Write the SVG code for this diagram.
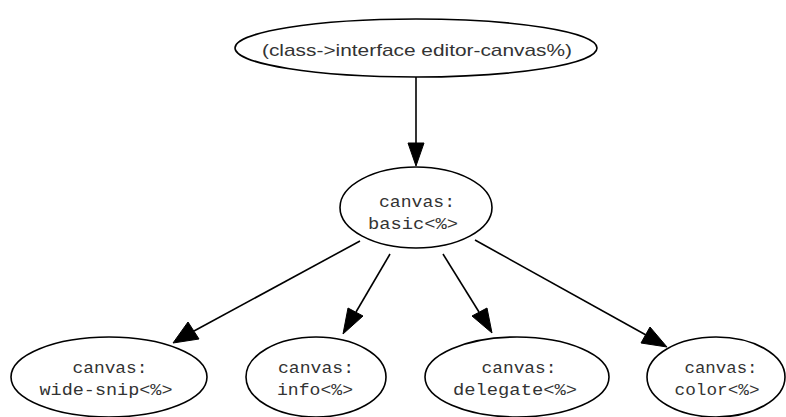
<svg xmlns="http://www.w3.org/2000/svg" width="786" height="417" viewBox="0 0 786 417">
<style>
.node ellipse{fill:none;stroke:#000;stroke-width:1.6}
.edge{stroke:#000;stroke-width:1.6;fill:none}
.t{font-family:"Liberation Mono",monospace;font-size:16px;fill:#333;text-anchor:middle}
.ts{font-family:"Liberation Sans",sans-serif;font-size:17px;fill:#333;text-anchor:middle}
</style>
<defs>
<marker id="ah" viewBox="0 0 10 10" refX="10" refY="5" markerWidth="10" markerHeight="10" markerUnits="userSpaceOnUse" orient="auto"><path d="M0,0 L10,5 L0,10 z" fill="#000"/></marker>
</defs>
<rect width="786" height="417" fill="#fff"/>
<g id="connectors">
<line class="edge" x1="416" y1="77" x2="416" y2="143"/><path d="M408,143 L424,143 L416,166 z" fill="#000" stroke="#000"/>
<line class="edge" x1="360" y1="241" x2="194" y2="331"/><path d="M188,322 L199,339 L173,343 z" fill="#000" stroke="#000"/>
<line class="edge" x1="390" y1="254" x2="356" y2="312"/><path d="M348,308 L363,316 L343,334 z" fill="#000" stroke="#000"/>
<line class="edge" x1="443" y1="254" x2="479" y2="312"/><path d="M472,316 L487,308 L492,333 z" fill="#000" stroke="#000"/>
<line class="edge" x1="475" y1="240" x2="646" y2="335"/><path d="M641,343 L650,327 L667,347 z" fill="#000" stroke="#000"/>
</g>
<g id="n0" class="node"><ellipse cx="416" cy="48" rx="181" ry="29"/><text class="ts" x="417" y="56" textLength="310" lengthAdjust="spacingAndGlyphs">(class-&gt;interface editor-canvas%)</text></g>
<g id="n1" class="node"><ellipse cx="416" cy="207.5" rx="76" ry="40.5"/><text class="t" x="417" y="207" textLength="76" lengthAdjust="spacingAndGlyphs">canvas:</text><text class="t" x="413" y="229" textLength="90" lengthAdjust="spacingAndGlyphs">basic&lt;%&gt;</text></g>
<g id="n2" class="node"><ellipse cx="109" cy="377" rx="98" ry="40"/><text class="t" x="110" y="373" textLength="75" lengthAdjust="spacingAndGlyphs">canvas:</text><text class="t" x="106" y="395" textLength="133" lengthAdjust="spacingAndGlyphs">wide-snip&lt;%&gt;</text></g>
<g id="n3" class="node"><ellipse cx="316" cy="377" rx="70" ry="40"/><text class="t" x="316" y="373" textLength="76" lengthAdjust="spacingAndGlyphs">canvas:</text><text class="t" x="315" y="395" textLength="76" lengthAdjust="spacingAndGlyphs">info&lt;%&gt;</text></g>
<g id="n4" class="node"><ellipse cx="517" cy="377" rx="92" ry="40"/><text class="t" x="519" y="373" textLength="75" lengthAdjust="spacingAndGlyphs">canvas:</text><text class="t" x="515" y="395" textLength="124" lengthAdjust="spacingAndGlyphs">delegate&lt;%&gt;</text></g>
<g id="n5" class="node"><ellipse cx="716" cy="377" rx="69" ry="40"/><text class="t" x="721" y="373" textLength="73" lengthAdjust="spacingAndGlyphs">canvas:</text><text class="t" x="717" y="395" textLength="85" lengthAdjust="spacingAndGlyphs">color&lt;%&gt;</text></g>
</svg>
